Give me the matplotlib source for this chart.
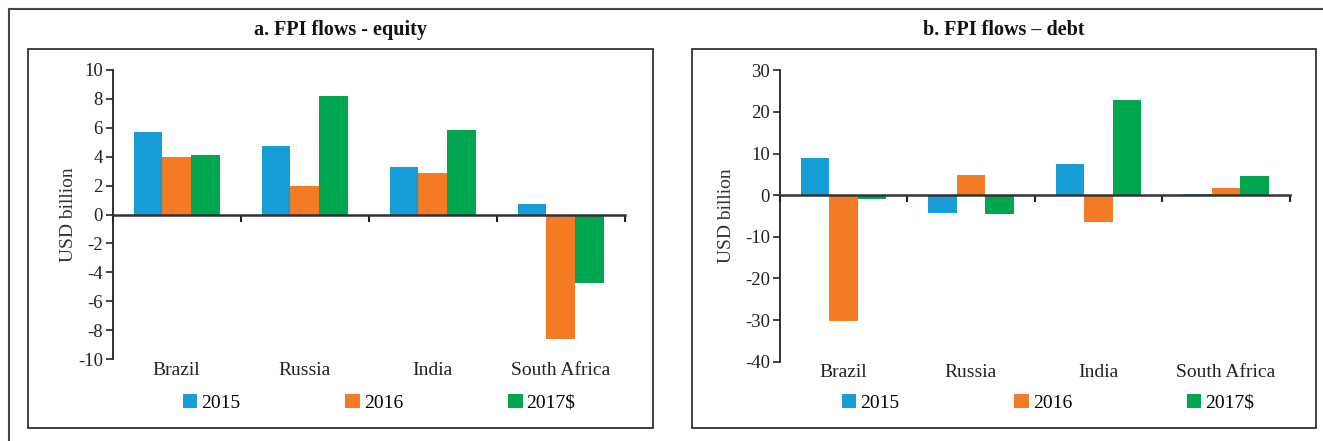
import numpy as np
import matplotlib
matplotlib.use('Agg')
import matplotlib.pyplot as plt
from matplotlib.patches import Rectangle
from matplotlib.lines import Line2D

plt.rcParams['font.family'] = ['Liberation Serif', 'DejaVu Serif']
plt.rcParams['axes.unicode_minus'] = False

#categories and years
countries = ['Brazil', 'Russia', 'India', 'South Africa']
years = ['2015', '2016', '2017$']
colors = ['#179ed9', '#f47b25', '#00a650']

#equity flows, USD billion
equity_2015 = [5.7, 4.75, 3.3, 0.75]
equity_2016 = [3.95, 2.0, 2.9, -8.6]
equity_2017 = [4.1, 8.2, 5.85, -4.75]

#debt flows, USD billion
debt_2015 = [8.9, -4.2, 7.5, 0.4]
debt_2016 = [-30.3, 4.9, -6.4, 1.8]
debt_2017 = [-0.9, -4.4, 22.8, 4.6]

W, H = 1323, 441
fig = plt.figure(figsize=(W / 100, H / 100), dpi=100)

#outer frame, only top and left edges show
fig.add_artist(Line2D([9 / W, 1], [1 - 9 / H, 1 - 9 / H], color='#444444', lw=1.5))
fig.add_artist(Line2D([9 / W, 9 / W], [1 - 9 / H, 0], color='#444444', lw=1.5))

#panel boxes
for x0, x1 in [(28, 653), (692, 1316)]:
    fig.add_artist(Rectangle((x0 / W, 1 - 428 / H), (x1 - x0) / W, (428 - 49) / H,
                             fill=False, edgecolor='#333333', lw=1.3))

bar_w = 0.223
x = np.arange(len(countries))


def draw_panel(ax, series, ylim, yticks, title, title_x, legend_x, colsp, ylab_x):
    for i, (vals, c) in enumerate(zip(series, colors)):
        ax.bar(x + (i - 1) * bar_w, vals, bar_w, color=c, label=years[i], zorder=2)
    ax.set_xlim(-0.5, len(countries) - 0.5)
    ax.set_ylim(*ylim)
    ax.set_yticks(yticks)
    ax.set_yticklabels([str(t) for t in yticks], fontsize=13.5, color='#222222')
    ax.tick_params(axis='y', direction='out', length=5, width=1.2, color='#222222', pad=2)
    #zero line with ticks at category boundaries
    ax.spines['bottom'].set_position(('data', 0))
    ax.spines['bottom'].set_linewidth(1.8)
    ax.spines['bottom'].set_color('#333333')
    ax.spines['bottom'].set_zorder(3)
    ax.set_xticks(np.arange(len(countries) + 1) - 0.5)
    ax.set_xticklabels([])
    ax.tick_params(axis='x', direction='out', length=5, width=1.5, color='#222222')
    ax.spines['left'].set_linewidth(1.3)
    ax.spines['left'].set_color('#222222')
    ax.spines['top'].set_visible(False)
    ax.spines['right'].set_visible(False)
    #category names along the bottom
    sec = ax.secondary_xaxis('bottom')
    sec.set_xticks(x, countries, fontsize=14, color='#222222')
    sec.tick_params(length=0, pad=2)
    sec.spines['bottom'].set_visible(False)
    ax.set_ylabel('USD billion', fontsize=14, color='#333333')
    ax.yaxis.set_label_coords(ylab_x, 0.5)
    fig.text(title_x, 1 - 30 / H, title, ha='center', va='center',
             fontsize=14.5, fontweight='bold', color='#111111')
    ax.legend(loc='center', bbox_to_anchor=(legend_x, 1 - 403 / H),
              bbox_transform=fig.transFigure, ncol=3, frameon=False,
              fontsize=14, handlelength=0.75, handleheight=0.75,
              handletextpad=0.2, columnspacing=colsp)


ax1 = fig.add_axes([112.7 / W, 1 - 359 / H, 512 / W, 289 / H])
draw_panel(ax1, [equity_2015, equity_2016, equity_2017], (-10, 10),
           list(range(-10, 11, 2)), 'a. FPI flows - equity', 340 / W, 379 / W, 5.4, -0.07)

ax2 = fig.add_axes([779.7 / W, 1 - 361.7 / H, 510 / W, 291.4 / H])
draw_panel(ax2, [debt_2015, debt_2016, debt_2017], (-40, 30),
           list(range(-40, 31, 10)), 'b. FPI flows \u2013 debt', 1004 / W, 1048 / W, 5.9, -0.088)

fig.savefig('out.png', dpi=100)
